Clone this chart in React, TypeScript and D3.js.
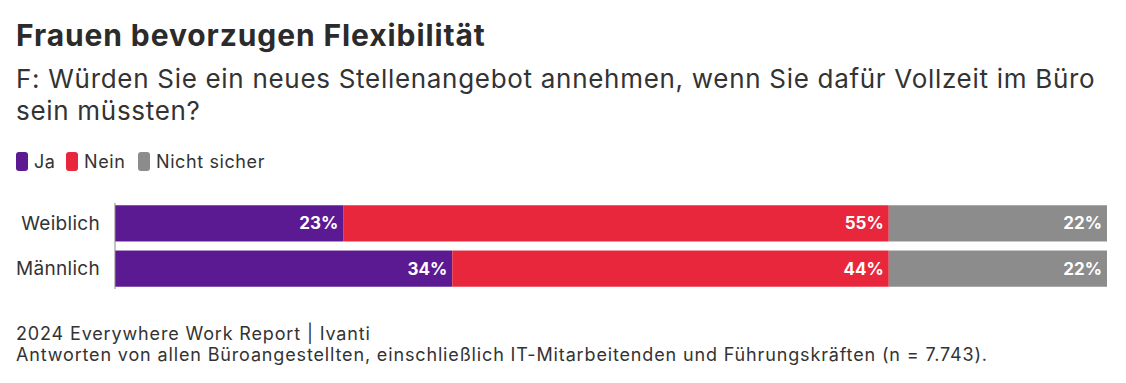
import React from "react";
import * as d3 from "d3";

const categories = ["Weiblich", "Männlich"];
const seriesNames = ["Ja", "Nein", "Nicht sicher"];
const ja = [23, 34];
const nein = [55, 44];
const nichtSicher = [22, 22];
const colors = ["#5c1a92", "#e8273c", "#8c8c8c"];

const W = 1126;
const H = 383;
const FONT = "Inter, 'Noto Sans', sans-serif";

export default function App() {
  const x0 = 115;
  const x1 = 1107;
  const x = d3.scaleLinear().domain([0, 100]).range([x0, x1]);
  const y = d3.scaleBand<string>().domain(categories).range([203, 289]).paddingInner(0.2).paddingOuter(0.05);

  const rows = categories.map((c, i) => ({ cat: c, Ja: ja[i], Nein: nein[i], "Nicht sicher": nichtSicher[i] }));
  const stacked = d3.stack<any>().keys(seriesNames)(rows);

  const legendX = [16, 66, 138];

  return (
    <svg width={W} height={H} style={{ position: "absolute", left: 0, top: 0, fontFamily: FONT }}>
      <rect width={W} height={H} fill="#fff" />
      <text x={16} y={46} fontSize={30} fontWeight={700} fill="#2b2b2b" letterSpacing={0.9}>Frauen bevorzugen Flexibilität</text>
      <text x={16} y={88} fontSize={26} fill="#333" letterSpacing={0.7}>F: Würden Sie ein neues Stellenangebot annehmen, wenn Sie dafür Vollzeit im Büro</text>
      <text x={16} y={120} fontSize={26} fill="#333" letterSpacing={0.7}>sein müssten?</text>

      {seriesNames.map((s, i) => (
        <g key={s} transform={`translate(${legendX[i]},0)`}>
          <rect x={0} y={152} width={12} height={19} rx={3} fill={colors[i]} />
          <text x={18} y={168} fontSize={18} fill="#333" letterSpacing={0.6}>{s}</text>
        </g>
      ))}

      {stacked.map((layer, si) => (
        <g key={layer.key}>
          {layer.map((d, ci) => (
            <g key={ci}>
              <rect
                x={x(d[0])}
                y={y(categories[ci])!}
                width={x(d[1]) - x(d[0])}
                height={y.bandwidth()}
                fill={colors[si]}
              />
              <text
                x={x(d[1]) - 5}
                y={y(categories[ci])! + y.bandwidth() / 2}
                dy="0.35em"
                textAnchor="end"
                fontSize={17}
                fontWeight={700}
                fill="#fff"
              >
                {`${d[1] - d[0]}%`}
              </text>
            </g>
          ))}
        </g>
      ))}

      {categories.map((c) => (
        <text key={c} x={100} y={y(c)! + y.bandwidth() / 2} dy="0.35em" textAnchor="end" fontSize={19} fill="#333" letterSpacing={0.3}>
          {c}
        </text>
      ))}
      <line x1={x0} x2={x0} y1={203} y2={289} stroke="#888" strokeWidth={1} />

      <text x={16} y={340} fontSize={18} fill="#333" letterSpacing={0.85}>2024 Everywhere Work Report | Ivanti</text>
      <text x={16} y={361} fontSize={18} fill="#333" letterSpacing={0.85}>Antworten von allen Büroangestellten, einschließlich IT-Mitarbeitenden und Führungskräften (n = 7.743).</text>
    </svg>
  );
}
